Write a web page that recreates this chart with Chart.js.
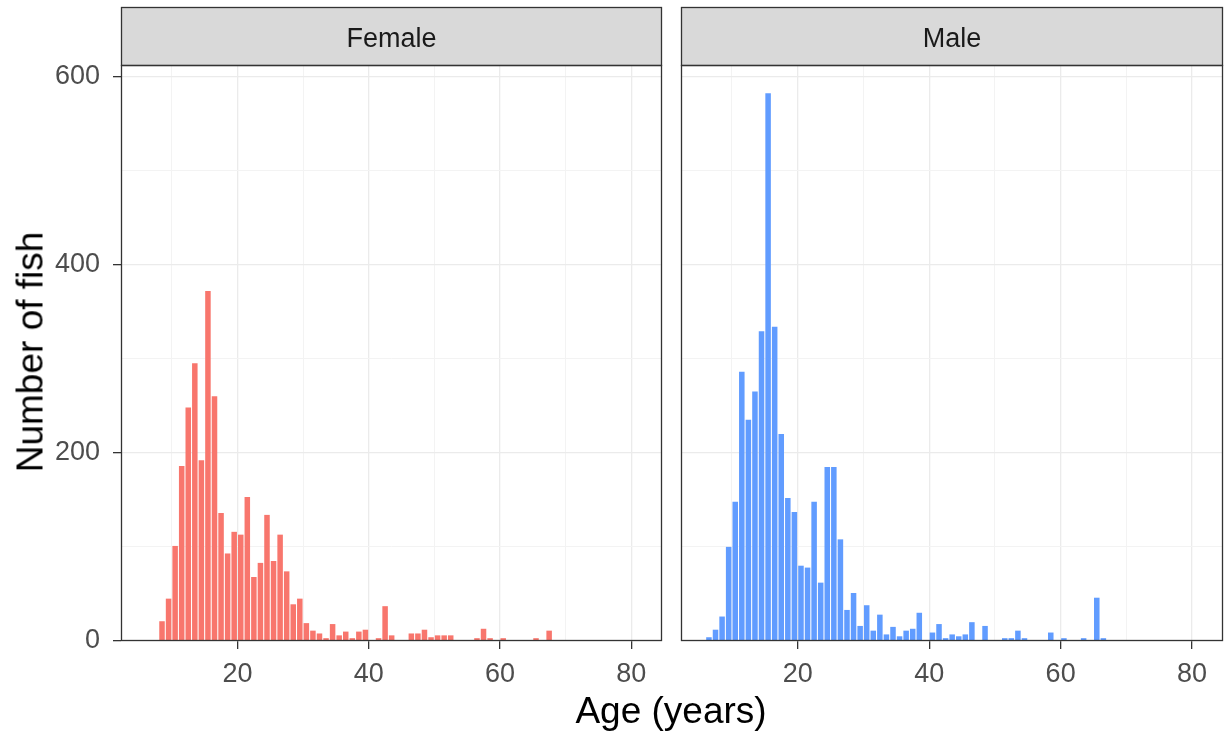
<!DOCTYPE html>
<html>
<head>
<meta charset="utf-8">
<script src="https://cdn.jsdelivr.net/npm/chart.js@4.4.1/dist/chart.umd.min.js"></script>
<style>
  body { margin: 0; background: #fff; width: 1231px; height: 738px; overflow: hidden; position: relative; font-family: "Liberation Sans", Arial, sans-serif; }
  .box { position: absolute; top: 0; height: 738px; }
  #titleX { position: absolute; left: 0; width: 1342px; top: 692px; line-height: 1; text-align: center; font-size: 37px; color: #000; }
  #titleY { position: absolute; left: 30px; top: 352px; line-height: 1; transform: translate(-50%, -50%) rotate(-90deg); font-size: 37px; color: #000; white-space: nowrap; }
</style>
</head>
<body>
<div class="box" style="left:0;width:672px"><canvas id="grafFemea"></canvas></div>
<div class="box" style="left:672px;width:559px"><canvas id="grafMacho"></canvas></div>
<div id="titleX">Age (years)</div>
<div id="titleY">Number of fish</div>
<script>
// idades (bins de 1 ano, centro em idade + 0.5)
const ages = [6, 7, 8, 9, 10, 11, 12, 13, 14, 15, 16, 17, 18, 19, 20, 21, 22, 23, 24, 25, 26, 27, 28, 29, 30,
  31, 32, 33, 34, 35, 36, 37, 38, 39, 40, 41, 42, 43, 44, 45, 46, 47, 48, 49, 50, 51, 52, 53, 54, 55,
  56, 57, 58, 59, 60, 61, 62, 63, 64, 65, 66, 67, 68, 69, 70, 71, 72, 73];

const femaleCounts = [0, 0, 21, 45, 101, 186, 248, 295, 192, 372, 260, 136, 93, 116, 113, 153, 68, 83, 134, 85, 113, 74, 39, 45, 19,
  11, 8, 3, 18, 6, 10, 3, 10, 12, 0, 3, 37, 6, 0, 0, 8, 8, 12, 4, 6, 6, 6, 0, 0, 0,
  3, 13, 3, 0, 3, 0, 0, 0, 0, 3, 0, 11, 0, 0, 0, 0, 0, 0];

const maleCounts = [4, 12, 26, 100, 148, 286, 235, 265, 329, 582, 334, 220, 152, 137, 80, 78, 148, 62, 185, 185, 108, 33, 51, 16, 38,
  11, 28, 7, 15, 5, 11, 13, 30, 0, 9, 18, 3, 7, 5, 7, 20, 0, 16, 0, 0, 3, 3, 11, 3, 0,
  0, 0, 9, 0, 3, 1, 0, 3, 0, 46, 3, 0, 0, 0, 0, 0, 0, 1];

const panels = ["Female", "Male"];
const cores = ["#F8766D", "#619CFF"];
const yTicks = [0, 200, 400, 600];
const xTicks = [20, 40, 60, 80];

const X_MIN = 2.25, X_MAX = 84.7;
const Y_MAX = 612;
const FONTE = '"Liberation Sans", Arial, sans-serif';

// major ou minor?
const ehMajor = (c, lista) => !!(c && c.tick && lista.includes(c.tick.value));

// tira cinza + moldura do painel
const painelPlugin = {
  id: "painel",
  afterDraw(chart, args, opts) {
    const { ctx, chartArea: a } = chart;
    ctx.save();
    ctx.fillStyle = "#D9D9D9";
    ctx.fillRect(a.left, a.top - 58, a.right - a.left, 58);
    ctx.strokeStyle = "#333333";
    ctx.lineWidth = 1.3;
    ctx.strokeRect(a.left + 0.5, a.top - 58 + 0.5, a.right - a.left - 1, 58);
    ctx.strokeRect(a.left + 0.5, a.top + 0.5, a.right - a.left - 1, a.bottom - a.top - 1);
    ctx.fillStyle = "#1A1A1A";
    ctx.font = "27px " + FONTE;
    ctx.textAlign = "center";
    ctx.textBaseline = "middle";
    ctx.fillText(opts.label, (a.left + a.right) / 2, a.top - 25);
    ctx.restore();
  },
};

function criarGrafico(id, idx, counts, comEixoY) {
  const data = ages.map((a, i) => ({ x: a + 0.5, y: counts[i] }));
  return new Chart(document.getElementById(id), {
    type: "bar",
    data: {
      datasets: [{
        label: panels[idx],
        data: data,
        backgroundColor: cores[idx],
        borderWidth: 0,
        barPercentage: 0.84,
        categoryPercentage: 1,
      }],
    },
    options: {
      responsive: true,
      maintainAspectRatio: false,
      animation: false,
      layout: { padding: { top: 65, right: comEixoY ? 10 : 8, left: 0, bottom: 0 } },
      plugins: {
        legend: { display: false },
        tooltip: { enabled: false },
        painel: { label: panels[idx] },
      },
      scales: {
        x: {
          type: "linear",
          min: X_MIN,
          max: X_MAX,
          offset: false,
          afterFit(s) { s.height = 97; },
          border: { display: false },
          grid: {
            offset: false,
            color: (c) => (ehMajor(c, xTicks) ? "#EBEBEB" : "#F3F3F3"),
            lineWidth: (c) => (ehMajor(c, xTicks) ? 1.3 : 1),
            tickColor: (c) => (ehMajor(c, xTicks) ? "#333333" : "rgba(0,0,0,0)"),
            tickLength: 8,
          },
          ticks: {
            stepSize: 10,
            includeBounds: false,
            maxRotation: 0,
            autoSkip: false,
            padding: 9,
            color: "#4D4D4D",
            font: { size: 27, family: FONTE },
            callback: (v) => (xTicks.includes(v) ? String(v) : ""),
          },
        },
        y: {
          min: 0,
          max: Y_MAX,
          afterFit(s) { s.width = comEixoY ? 121 : 9; },
          border: { display: false },
          grid: {
            color: (c) => (ehMajor(c, yTicks) ? "#EBEBEB" : "#F3F3F3"),
            lineWidth: (c) => (ehMajor(c, yTicks) ? 1.3 : 1),
            tickColor: (c) => (comEixoY && ehMajor(c, yTicks) ? "#333333" : "rgba(0,0,0,0)"),
            tickLength: 8,
          },
          ticks: {
            display: comEixoY,
            stepSize: 100,
            includeBounds: false,
            autoSkip: false,
            padding: 13,
            color: "#4D4D4D",
            font: { size: 27, family: FONTE },
            callback: (v) => (yTicks.includes(v) ? String(v) : ""),
          },
        },
      },
    },
    plugins: [painelPlugin],
  });
}

criarGrafico("grafFemea", 0, femaleCounts, true);
criarGrafico("grafMacho", 1, maleCounts, false);
</script>
</body>
</html>
